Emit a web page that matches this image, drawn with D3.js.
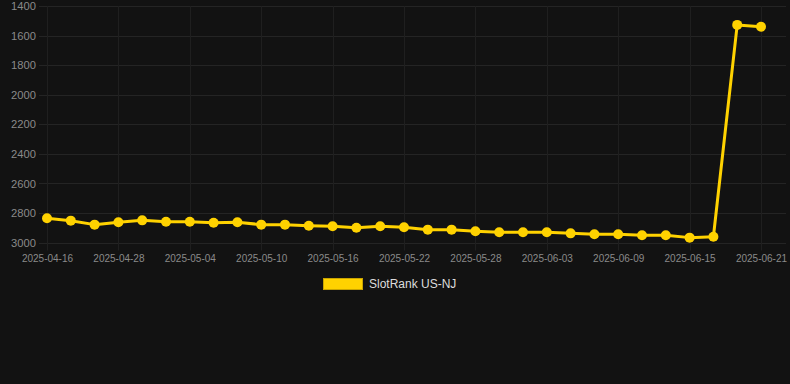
<!DOCTYPE html>
<html>
<head>
<meta charset="utf-8">
<script src="https://cdn.jsdelivr.net/npm/d3@7"></script>
<style>
  body { margin: 0; background: #121212; }
  #chart { width: 790px; height: 384px; }
  text { font-family: "Liberation Sans", Arial, sans-serif; }
</style>
</head>
<body>
<div id="chart"></div>
<script>
// Chart data
const dates = [
  "2025-04-16", "2025-04-20", "2025-04-24", "2025-04-28", "2025-04-30", "2025-05-02",
  "2025-05-04", "2025-05-06", "2025-05-08", "2025-05-10", "2025-05-12", "2025-05-14",
  "2025-05-16", "2025-05-18", "2025-05-20", "2025-05-22", "2025-05-24", "2025-05-26",
  "2025-05-28", "2025-05-30", "2025-06-01", "2025-06-03", "2025-06-05", "2025-06-07",
  "2025-06-09", "2025-06-11", "2025-06-13", "2025-06-15", "2025-06-17", "2025-06-19",
  "2025-06-21"
];
const ranks = [
  2836, 2852, 2879, 2863, 2850, 2859, 2859, 2866, 2863, 2879, 2879, 2886,
  2890, 2900, 2890, 2897, 2913, 2913, 2924, 2931, 2931, 2931, 2938, 2944,
  2944, 2951, 2951, 2967, 2961, 1526, 1538
];
const xTickLabels = [
  "2025-04-16", "2025-04-28", "2025-05-04", "2025-05-10", "2025-05-16", "2025-05-22",
  "2025-05-28", "2025-06-03", "2025-06-09", "2025-06-15", "2025-06-21"
];
const yTicks = [1400, 1600, 1800, 2000, 2200, 2400, 2600, 2800, 3000];
const seriesName = "SlotRank US-NJ";

const W = 790, H = 384;
const plot = {left: 47, right: 761, top: 6.3, bottom: 242.5};
const lineColor = "#ffd200";

const svg = d3.select("#chart")
  .append("svg")
  .attr("width", W)
  .attr("height", H);

svg.append("rect")
  .attr("width", W)
  .attr("height", H)
  .attr("fill", "#121212");

// Scales
const x = d3.scalePoint()
  .domain(dates)
  .range([plot.left, plot.right]);

const y = d3.scaleLinear()
  .domain([1400, 3000])
  .range([plot.top, plot.bottom]);

// Horizontal grid
svg.append("g")
  .selectAll("line")
  .data(yTicks)
  .join("line")
  .attr("x1", 39)
  .attr("x2", 786)
  .attr("y1", d => Math.round(y(d)) + 0.5)
  .attr("y2", d => Math.round(y(d)) + 0.5)
  .attr("stroke", "#242424")
  .attr("stroke-width", 1);

// Vertical grid (only at shown labels)
svg.append("g")
  .selectAll("line")
  .data(xTickLabels)
  .join("line")
  .attr("x1", d => Math.round(x(d)) + 0.5)
  .attr("x2", d => Math.round(x(d)) + 0.5)
  .attr("y1", plot.top)
  .attr("y2", plot.bottom + 8)
  .attr("stroke", "#1f1f1f")
  .attr("stroke-width", 1);

// Y axis labels
const yAxis = svg.append("g")
  .attr("transform", `translate(${36},0)`)
  .call(d3.axisLeft(y).tickValues(yTicks).tickSize(0).tickPadding(0).tickFormat(d3.format("d")));
yAxis.select(".domain").remove();
yAxis.selectAll("text")
  .attr("fill", "#8a8a8a")
  .style("font-size", "11.2px")
  .style("font-family", "'Liberation Sans', Arial, sans-serif");

// X axis labels
const xAxis = svg.append("g")
  .attr("transform", `translate(0,${plot.bottom + 12})`)
  .call(d3.axisBottom(x).tickValues(xTickLabels).tickSize(0).tickPadding(0));
xAxis.select(".domain").remove();
xAxis.selectAll("text")
  .attr("fill", "#8a8a8a")
  .attr("dy", "0.71em")
  .style("font-size", "10px")
  .style("font-family", "'Liberation Sans', Arial, sans-serif");

// Line
const line = d3.line()
  .x((d, i) => x(dates[i]))
  .y(d => y(d));

svg.append("path")
  .datum(ranks)
  .attr("fill", "none")
  .attr("stroke", lineColor)
  .attr("stroke-width", 3)
  .attr("stroke-linejoin", "round")
  .attr("d", line);

// Points
svg.append("g")
  .selectAll("circle")
  .data(ranks)
  .join("circle")
  .attr("cx", (d, i) => x(dates[i]))
  .attr("cy", d => y(d))
  .attr("r", 5)
  .attr("fill", lineColor);

// Legend
const legend = svg.append("g");
legend.append("rect")
  .attr("x", 323.5)
  .attr("y", 278.5)
  .attr("width", 39)
  .attr("height", 11)
  .attr("fill", lineColor)
  .attr("stroke", "#c9a400")
  .attr("stroke-width", 1);
legend.append("text")
  .attr("x", 369)
  .attr("y", 284)
  .attr("dy", "0.35em")
  .attr("fill", "#dddddd")
  .style("font-size", "12px")
  .text(seriesName);
</script>
</body>
</html>
